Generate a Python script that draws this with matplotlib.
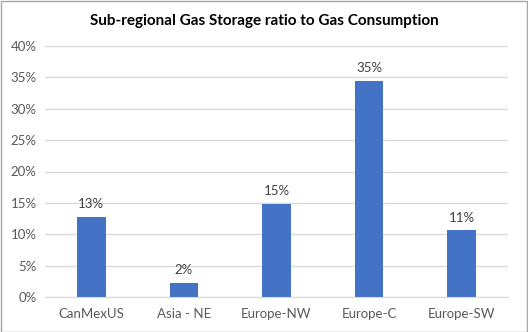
import matplotlib
matplotlib.use("Agg")
import matplotlib.pyplot as plt
from matplotlib.patches import Rectangle

categories = ["CanMexUS", "Asia - NE", "Europe-NW", "Europe-C", "Europe-SW"]
values = [12.7, 2.2, 14.9, 34.5, 10.6]
labels = ["13%", "2%", "15%", "35%", "11%"]
yticks = [0, 5, 10, 15, 20, 25, 30, 35, 40]

plt.rcParams['font.family'] = ['Lato', 'DejaVu Sans']

W, H = 528, 332
fig = plt.figure(figsize=(W/100, H/100), dpi=100)
ax = fig.add_axes([45/W, (H-297)/H, (508-45)/W, (297-46)/H])

x = list(range(len(categories)))
ax.bar(x, values, width=0.31, color="#4472C4", zorder=3)
for xi, v, lab in zip(x, values, labels):
    ax.annotate(lab, (xi, v), xytext=(0, 5), textcoords="offset points",
                ha="center", va="bottom", fontsize=9.5, color="#404040")

ax.set_xlim(-0.5, len(categories)-0.5)
ax.set_ylim(0, 40)
ax.set_yticks(yticks)
ax.set_yticklabels([f"{t}%" for t in yticks])
ax.set_xticks(x)
ax.set_xticklabels(categories)
ax.yaxis.grid(True, color="#D9D9D9", linewidth=1, zorder=0)
ax.tick_params(axis="both", length=0, labelsize=9.5, labelcolor="#595959")
ax.tick_params(axis="x", pad=8)
ax.tick_params(axis="y", pad=6)
for s in ["top", "right", "left"]:
    ax.spines[s].set_visible(False)
ax.spines["bottom"].set_color("#D9D9D9")
ax.spines["bottom"].set_zorder(4)

fig.text(0.5, 1 - 21/H, "Sub-regional Gas Storage ratio to Gas Consumption",
         ha="center", va="center", fontsize=11, fontweight="bold", color="#000000")

fig.patches.append(Rectangle((0.5/W, 0.5/H), 1 - 1.5/W, 1 - 1.5/H, transform=fig.transFigure,
                             fill=False, edgecolor="#A6A6A6", linewidth=1))

fig.savefig("out.png", dpi=100)
